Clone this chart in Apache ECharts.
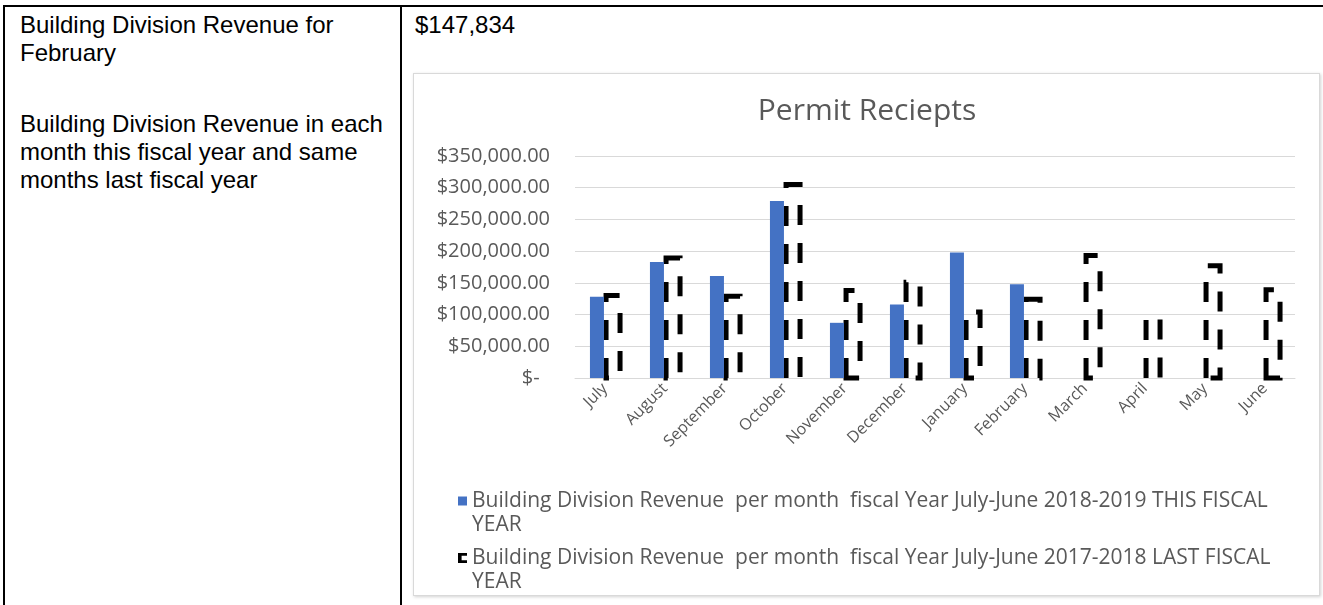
<!DOCTYPE html>
<html>
<head>
<meta charset="utf-8">
<script src="https://cdn.jsdelivr.net/npm/echarts@6/dist/echarts.min.js"></script>
<style>
  html, body { margin: 0; padding: 0; background: #fff; }
  body { width: 1323px; height: 605px; position: relative; overflow: hidden; }
  .ln { position: absolute; background: #000; }
  .txt { position: absolute; font-family: "Liberation Sans", Arial, sans-serif; font-size: 24px; line-height: 28px; color: #000; white-space: nowrap; }
  #frame { position: absolute; left: 413px; top: 73px; width: 905px; height: 521px; border: 1px solid #d9d9d9; box-shadow: 1px 1px 3px rgba(0,0,0,0.18); background: #fff; }
  #chart { position: absolute; left: 0; top: 0; width: 1323px; height: 605px; }
</style>
</head>
<body>
<div class="ln" style="left:3px; top:5px; width:1320px; height:2px;"></div>
<div class="ln" style="left:3px; top:5px; width:2px; height:600px;"></div>
<div class="ln" style="left:400px; top:5px; width:2px; height:600px;"></div>

<div class="txt" style="left:20px; top:11px;">Building Division Revenue for</div>
<div class="txt" style="left:20px; top:39px;">February</div>
<div class="txt" style="left:20px; top:110px;">Building Division Revenue in each</div>
<div class="txt" style="left:20px; top:138px;">month this fiscal year and same</div>
<div class="txt" style="left:20px; top:166px;">months last fiscal year</div>
<div class="txt" style="left:415px; top:11px;">$147,834</div>

<div id="frame"></div>
<div id="chart"></div>

<script>
const chartTitle = 'Permit Reciepts';
const months = ['July','August','September','October','November','December','January','February','March','April','May','June'];
const thisYearName = 'Building Division Revenue  per month  fiscal Year July-June 2018-2019 THIS FISCAL YEAR';
const lastYearName = 'Building Division Revenue  per month  fiscal Year July-June 2017-2018 LAST FISCAL YEAR';
const thisYear = [128000, 183000, 161000, 279000, 87000, 116000, 198000, 147834, null, null, null, null];
const lastYear = [130000, 189000, 129000, 305000, 138000, 151000, 104000, 124000, 193000, 95000, 177000, 139000];
const yMin = 0, yMax = 350000, yStep = 50000;

const FONT = '"Open Sans", "Noto Sans", sans-serif';
const GRAY = '#595959';
const BAR_W = 14;
const BAR_GAP = 0.15;

function money(v) {
  if (v === 0) return '$-  ';
  return '$' + v.toLocaleString('en-US', {minimumFractionDigits: 2, maximumFractionDigits: 2});
}
// leading empty line keeps the icon level with the first text line
function legendFmt(name) { return '\n' + name.replace(/ YEAR$/, '\nYEAR'); }

const legendText = {fontFamily: FONT, fontSize: 21, color: GRAY, lineHeight: 24};

const chart = echarts.init(document.getElementById('chart'), null, {renderer: 'canvas'});
chart.setOption({
  animation: false,
  title: {
    text: chartTitle,
    left: 867, textAlign: 'center', top: 96, padding: 0,
    textStyle: {fontFamily: FONT, fontSize: 30, fontWeight: 'normal', color: GRAY}
  },
  legend: [
    {
      data: [{name: thisYearName, icon: 'rect', itemStyle: {color: '#4472C4'}}],
      left: 458, top: 465, padding: 0, itemWidth: 9, itemHeight: 9, selectedMode: false,
      formatter: legendFmt, textStyle: legendText
    },
    {
      data: [{name: lastYearName, icon: 'path://M0,0H10V3H4V8H10V11H0Z', itemStyle: {color: '#000', borderWidth: 0, opacity: 1}}],
      left: 458, top: 522, padding: 0, itemWidth: 9, itemHeight: 12, selectedMode: false,
      formatter: legendFmt, textStyle: legendText
    }
  ],
  grid: {left: 575, right: 28, top: 156, bottom: 227, containLabel: false},
  xAxis: {
    type: 'category',
    data: months,
    axisTick: {show: false},
    axisLine: {lineStyle: {color: '#d9d9d9', width: 1}},
    axisLabel: {rotate: 45, interval: 0, margin: 8, fontFamily: FONT, fontSize: 16, color: GRAY}
  },
  yAxis: {
    type: 'value',
    min: yMin, max: yMax, interval: yStep,
    axisLine: {show: false}, axisTick: {show: false},
    splitLine: {lineStyle: {color: '#d9d9d9', width: 1}},
    axisLabel: {formatter: money, margin: 25, fontFamily: FONT, fontSize: 20, color: GRAY}
  },
  series: [
    {
      name: thisYearName, type: 'bar', data: thisYear,
      barWidth: BAR_W, barGap: (BAR_GAP * 100) + '%',
      itemStyle: {color: '#4472C4'}
    },
    {
      // placeholder bar: keeps the side-by-side slot for last year
      name: lastYearName, type: 'bar', data: lastYear,
      barWidth: BAR_W, silent: true,
      itemStyle: {color: 'rgba(0,0,0,0)'}
    },
    {
      // dashed outline drawn up the left edge, across the top, down the right edge
      name: lastYearName, type: 'custom', silent: true,
      data: lastYear.map(function (v, i) { return [i, v]; }),
      encode: {x: 0, y: 1},
      itemStyle: {color: '#000'},
      renderItem: function (params, api) {
        const i = api.value(0), v = api.value(1);
        if (v == null || isNaN(v)) return;
        const topPt = api.coord([i, v]);
        const basePt = api.coord([i, 0]);
        const cx = topPt[0] + (BAR_W * BAR_GAP) / 2 + BAR_W / 2;
        const x0 = cx - BAR_W / 2, x1 = cx + BAR_W / 2;
        return {
          type: 'polygon',
          shape: {points: [[x0, basePt[1]], [x0, topPt[1]], [x1, topPt[1]], [x1, basePt[1]]]},
          style: {fill: 'none', stroke: '#000', lineWidth: 5, lineDash: [20, 18]}
        };
      }
    }
  ]
});
</script>
</body>
</html>
